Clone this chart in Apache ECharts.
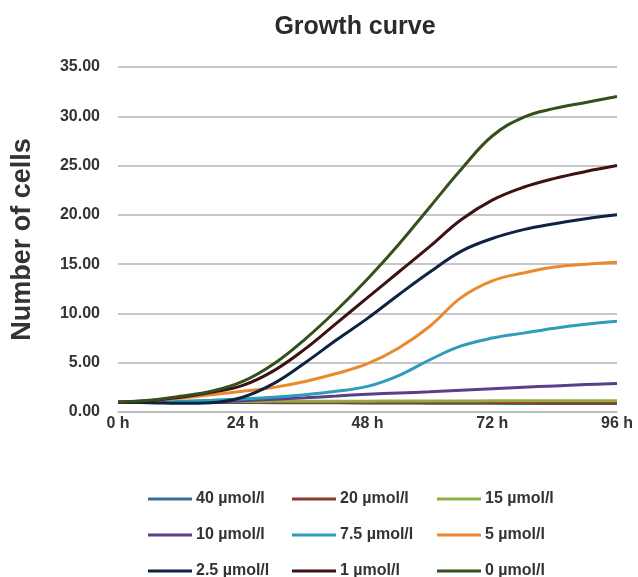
<!DOCTYPE html>
<html><head><meta charset="utf-8">
<script src="https://cdn.jsdelivr.net/npm/echarts@6/dist/echarts.min.js"></script>
<style>html,body{margin:0;padding:0;background:#fff}#c{width:638px;height:577px}</style>
</head><body><div id="c"></div>
<script>
const hours = [0, 6, 12, 18, 24, 30, 36, 42, 48, 54, 60, 66, 72, 78, 84, 90, 96];
const xTicks = ['0 h', '24 h', '48 h', '72 h', '96 h'];
const seriesNames = ['40 µmol/l', '20 µmol/l', '15 µmol/l', '10 µmol/l', '7.5 µmol/l', '5 µmol/l', '2.5 µmol/l', '1 µmol/l', '0 µmol/l'];
const s40  = [1.0, 1.0, 0.98, 0.97, 0.96, 0.95, 0.94, 0.93, 0.92, 0.91, 0.9, 0.89, 0.88, 0.87, 0.86, 0.85, 0.85];
const s20  = [1.0, 1.0, 0.99, 0.98, 0.98, 0.97, 0.96, 0.96, 0.95, 0.95, 0.94, 0.94, 0.93, 0.93, 0.92, 0.92, 0.92];
const s15  = [1.0, 1.02, 1.04, 1.06, 1.07, 1.08, 1.09, 1.1, 1.1, 1.11, 1.12, 1.12, 1.13, 1.13, 1.14, 1.14, 1.15];
const s10  = [1.0, 1.0, 1.02, 1.07, 1.15, 1.3, 1.45, 1.62, 1.8, 1.93, 2.05, 2.2, 2.35, 2.5, 2.65, 2.78, 2.9];
const s7_5 = [1.0, 1.05, 1.1, 1.2, 1.33, 1.5, 1.75, 2.1, 2.6, 3.7, 5.3, 6.7, 7.5, 8.0, 8.5, 8.9, 9.2];
const s5   = [1.0, 1.15, 1.4, 1.75, 2.1, 2.5, 3.1, 3.9, 4.9, 6.5, 8.7, 11.6, 13.3, 14.1, 14.7, 15.0, 15.2];
const s2_5 = [1.0, 0.95, 0.88, 0.95, 1.5, 2.9, 5.0, 7.3, 9.5, 11.9, 14.2, 16.3, 17.6, 18.5, 19.1, 19.6, 20.0];
const s1   = [1.0, 1.15, 1.5, 2.0, 2.7, 4.2, 6.4, 9.0, 11.6, 14.2, 16.8, 19.5, 21.5, 22.8, 23.7, 24.4, 25.0];
const s0   = [1.0, 1.2, 1.6, 2.1, 3.1, 4.9, 7.4, 10.3, 13.5, 17.0, 20.8, 24.6, 28.0, 29.9, 30.8, 31.4, 32.0];
const allValues = [s40, s20, s15, s10, s7_5, s5, s2_5, s1, s0];
const colors = ['#3b6e96', '#8a3a30', '#8fae3e', '#5a3f88', '#2f9cba', '#ea8a2c', '#0e2342', '#3c1212', '#34501c'];

const font = 'Arial, "Liberation Sans", sans-serif';
const series = seriesNames.map((n, i) => ({
  name: n, type: 'line', smooth: 0.4, symbol: 'none',
  data: hours.map((h, j) => [h, allValues[i][j]]),
  lineStyle: { width: 3, color: colors[i] }, itemStyle: { color: colors[i] }
}));
const colLeft = [148, 292, 437];
const rowY = [497, 533, 569];
const legends = seriesNames.map((n, i) => ({
  orient: 'horizontal', left: colLeft[i % 3], top: rowY[Math.floor(i / 3)] - 6, data: [n],
  itemWidth: 44, itemHeight: 3, icon: 'rect', itemGap: 0, padding: 0,
  textStyle: { fontFamily: font, fontSize: 16, fontWeight: 'bold', color: '#333', padding: [0, 0, 0, -1] }
}));
const chart = echarts.init(document.getElementById('c'), null, { renderer: 'canvas' });
chart.setOption({
  animation: false,
  backgroundColor: '#fff',
  title: { text: 'Growth curve', left: 350, textAlign: 'center', top: 10,
    textStyle: { fontFamily: font, fontSize: 25, fontWeight: 'bold', color: '#2b2b2b' } },
  grid: { left: 118, right: 21, top: 67, bottom: 165 },
  legend: legends,
  xAxis: { type: 'value', min: 0, max: 96, interval: 24,
    axisLine: { show: true, lineStyle: { color: '#bbb', width: 1.5 } },
    axisTick: { show: false }, splitLine: { show: false },
    axisLabel: { formatter: v => xTicks[v / 24], fontFamily: font, fontSize: 16, fontWeight: 'bold', color: '#333', margin: 4 } },
  yAxis: { type: 'value', min: 0, max: 35, interval: 5,
    name: 'Number of cells', nameLocation: 'middle', nameGap: 82,
    nameTextStyle: { fontFamily: font, fontSize: 27, fontWeight: 'bold', color: '#333' },
    axisLine: { show: false }, axisTick: { show: false },
    splitLine: { lineStyle: { color: '#b5b5b5', width: 1.5 } },
    axisLabel: { formatter: v => v.toFixed(2), fontFamily: font, fontSize: 16, fontWeight: 'bold', color: '#333', margin: 18 } },
  series: series
});
</script></body></html>
